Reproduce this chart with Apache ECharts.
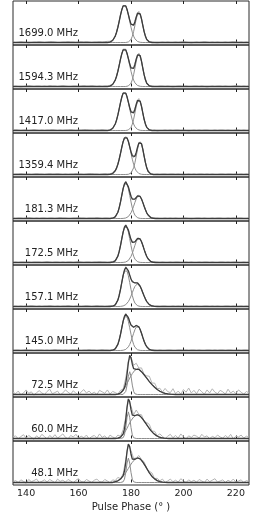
<!DOCTYPE html>
<html><head><meta charset="utf-8">
<script src="https://cdn.jsdelivr.net/npm/echarts@6/dist/echarts.min.js"></script>
<style>html,body{margin:0;padding:0;background:#fff}#c{width:256px;height:524px}</style>
</head><body><div id="c"></div>
<script>
// ---- tick labels / categories ----
const FREQ_LABELS = ['1699.0 MHz','1594.3 MHz','1417.0 MHz','1359.4 MHz','181.3 MHz','172.5 MHz','157.1 MHz','145.0 MHz','72.5 MHz','60.0 MHz','48.1 MHz'];
const X_TICKS = [140,160,180,200,220];
const X_MIN = 135, X_MAX = 225;
const AXIS_TITLE = 'Pulse Phase (° )';

// ---- model components: start phase (deg), values every 0.5 deg ----
const P1_C1 = [171.5, [0.005,0.012,0.026,0.052,0.097,0.167,0.269,0.401,0.558,0.720,0.864,0.964,1.000,0.964,0.864,0.720,0.558,0.401,0.269,0.167,0.097,0.052,0.026,0.012,0.005]];
const P1_C2 = [178.5, [0.005,0.014,0.035,0.081,0.162,0.288,0.450,0.620,0.750,0.800,0.750,0.620,0.450,0.288,0.162,0.081,0.035,0.014,0.005]];
const P2_C1 = [171.5, [0.005,0.012,0.026,0.052,0.097,0.167,0.269,0.401,0.558,0.720,0.864,0.964,1.000,0.964,0.864,0.720,0.558,0.401,0.269,0.167,0.097,0.052,0.026,0.012,0.005]];
const P2_C2 = [178.5, [0.005,0.015,0.038,0.087,0.175,0.310,0.484,0.667,0.807,0.860,0.807,0.667,0.484,0.310,0.175,0.087,0.038,0.015,0.005]];
const P3_C1 = [171.5, [0.005,0.012,0.027,0.053,0.099,0.170,0.274,0.409,0.569,0.734,0.881,0.983,1.020,0.983,0.881,0.734,0.569,0.409,0.274,0.170,0.099,0.053,0.027,0.012,0.005]];
const P3_C2 = [178.5, [0.005,0.014,0.036,0.083,0.166,0.295,0.462,0.636,0.769,0.820,0.769,0.636,0.462,0.295,0.166,0.083,0.036,0.014,0.005]];
const P4_C1 = [172.0, [0.005,0.012,0.026,0.052,0.097,0.167,0.269,0.401,0.558,0.720,0.864,0.964,1.000,0.964,0.864,0.720,0.558,0.401,0.269,0.167,0.097,0.052,0.026,0.012,0.005]];
const P4_C2 = [179.0, [0.005,0.015,0.038,0.087,0.175,0.310,0.484,0.667,0.807,0.860,0.807,0.667,0.484,0.310,0.175,0.087,0.038,0.015,0.005]];
const P5_C1 = [172.5, [0.003,0.007,0.018,0.042,0.087,0.163,0.280,0.435,0.612,0.782,0.904,0.950,0.904,0.782,0.612,0.435,0.280,0.163,0.087,0.042,0.018,0.007,0.003]];
const P5_C2 = [177.0, [0.002,0.006,0.013,0.026,0.051,0.091,0.149,0.229,0.323,0.424,0.514,0.577,0.600,0.577,0.514,0.424,0.323,0.229,0.149,0.091,0.051,0.026,0.013,0.006,0.002]];
const P6_C1 = [172.5, [0.003,0.007,0.019,0.043,0.089,0.167,0.286,0.444,0.625,0.798,0.923,0.970,0.923,0.798,0.625,0.444,0.286,0.167,0.089,0.043,0.019,0.007,0.003]];
const P6_C2 = [177.0, [0.0025,0.006,0.0135,0.028,0.054,0.097,0.159,0.244,0.345,0.452,0.548,0.616,0.640,0.616,0.548,0.452,0.345,0.244,0.159,0.097,0.054,0.028,0.0135,0.006,0.0025]];
const P7_C1 = [172.5, [0.003,0.007,0.019,0.043,0.090,0.169,0.289,0.449,0.631,0.807,0.933,0.980,0.933,0.807,0.631,0.449,0.289,0.169,0.090,0.043,0.019,0.007,0.003]];
const P7_C2 = [175.5, [0.001,0.003,0.007,0.014,0.026,0.048,0.081,0.130,0.195,0.275,0.364,0.453,0.529,0.581,0.600,0.581,0.529,0.453,0.364,0.275,0.195,0.130,0.081,0.048,0.026,0.014,0.007,0.003,0.001]];
const P8_C1 = [172.5, [0.0025,0.007,0.018,0.041,0.085,0.160,0.274,0.426,0.599,0.765,0.885,0.930,0.885,0.765,0.599,0.426,0.274,0.160,0.085,0.041,0.018,0.007,0.0025]];
const P8_C2 = [176.5, [0.0025,0.006,0.0135,0.028,0.054,0.097,0.159,0.244,0.345,0.452,0.548,0.616,0.640,0.616,0.548,0.452,0.345,0.244,0.159,0.097,0.054,0.028,0.0135,0.006,0.0025]];
const P9_C1 = [177.0, [0.002,0.017,0.081,0.247,0.481,0.600,0.481,0.247,0.081,0.017,0.002]];
const P9_C2 = [174.5, [0.005,0.01,0.02,0.04,0.07,0.11,0.16,0.22,0.29,0.36,0.43,0.49,0.55,0.60,0.64,0.66,0.67,0.665,0.635,0.60,0.56,0.52,0.475,0.43,0.385,0.34,0.30,0.26,0.225,0.19,0.16,0.13,0.105,0.085,0.067,0.052,0.04,0.03,0.022,0.016,0.012,0.008,0.005,0.003]];
const P10_C1 = [176.5, [0.003,0.020,0.095,0.288,0.561,0.700,0.561,0.288,0.095,0.020,0.003]];
const P10_C2 = [175.0, [0.01,0.02,0.035,0.06,0.10,0.15,0.21,0.27,0.34,0.41,0.47,0.52,0.565,0.60,0.62,0.625,0.615,0.59,0.555,0.51,0.46,0.41,0.36,0.31,0.26,0.215,0.175,0.14,0.11,0.083,0.062,0.045,0.032,0.022,0.015,0.009,0.005,0.002]];
const P11_C1 = [176.5, [0.002,0.018,0.086,0.263,0.513,0.640,0.513,0.263,0.086,0.018,0.002]];
const P11_C2 = [173.5, [0.01,0.02,0.03,0.045,0.065,0.09,0.125,0.165,0.21,0.26,0.31,0.37,0.43,0.48,0.53,0.575,0.61,0.635,0.645,0.64,0.62,0.585,0.54,0.485,0.43,0.37,0.31,0.255,0.205,0.16,0.125,0.095,0.07,0.05,0.035,0.024,0.016,0.01,0.006,0.003]];

// ---- observed profile residual noise, hundredths, one per degree 135..225 ----
const P1_NOISE = [1,0,1,2,1,0,-1,0,1,1, 2,1,0,1,2,2,1,0,0,1, 1,2,1,1,0,1,2,1,2,1, 0,1,1,2,1,2,3,2,1,0, 1,2,1,0,1,0,-1,0,1,0, 1,0,0,1,0,-1,0,1,0,1, 0,0,1,0,1,2,1,0,-1,0, 1,0,1,2,1,0,1,0,1,0, 0,1,0,1,2,1,0,1,0,1, 0];
const P2_NOISE = [0,1,0,-1,0,1,2,1,0,1, 1,0,1,0,2,1,1,0,1,2, 1,0,0,1,1,0,1,2,1,1, 2,1,0,1,0,1,1,2,1,1, 0,1,2,2,1,0,1,1,0,-1, 0,1,0,1,0,0,1,1,0,1, 0,-1,0,1,1,0,1,0,0,1, 1,0,1,0,-1,0,1,0,1,1, 0,1,0,0,1,2,1,0,1,0, 1];
const P3_NOISE = [1,2,1,0,1,1,0,1,2,1, 0,1,0,1,1,2,1,0,1,0, 1,1,2,1,0,1,1,2,2,1, 1,0,1,1,2,1,0,1,2,1, 0,1,1,0,-1,0,1,0,1,1, 0,1,1,0,1,-1,0,0,1,0, 1,0,1,1,0,1,0,-1,0,1, 0,1,0,1,1,0,0,1,0,1, 1,0,1,0,0,1,1,0,1,0, 0];
const P4_NOISE = [0,1,1,2,1,0,1,0,1,2, 1,1,0,1,2,1,1,2,1,0, 1,0,1,1,2,1,1,0,1,2, 2,1,1,0,1,2,1,1,2,1, 1,0,1,0,1,1,0,-1,0,1, 1,0,1,0,0,1,0,1,1,0, 1,1,0,1,0,-1,0,1,0,1, 0,1,1,0,1,0,1,0,0,1, 1,0,1,1,0,1,0,1,0,1, 0];
const P5_NOISE = [1,0,1,1,0,1,2,1,0,1, 0,1,1,0,1,1,0,1,2,1, 1,0,0,1,1,2,1,1,0,1, 1,1,2,1,0,1,1,0,1,1, 1,0,2,1,0,-1,0,1,1,0, 1,0,1,1,0,1,0,0,1,0, 1,0,1,0,0,1,1,0,-1,0, 1,1,0,1,0,0,1,0,1,1, 0,0,1,0,1,0,1,1,0,0, 1];
const P6_NOISE = [0,1,0,1,1,0,1,0,1,1, 1,0,1,2,1,0,1,1,0,1, 0,1,1,0,1,2,1,0,1,1, 0,1,1,2,1,1,0,1,2,1, 1,2,1,0,1,1,0,1,0,1, 0,1,0,0,1,1,0,1,0,0, 1,0,1,1,0,0,1,0,1,0, 0,1,0,1,1,0,1,0,0,1, 1,0,1,0,1,1,0,0,1,0, 1];
const P7_NOISE = [1,1,0,1,0,1,1,2,1,0, 1,0,1,1,2,1,0,1,0,1, 1,2,1,0,1,1,0,1,2,1, 0,1,2,1,1,0,1,2,1,0, 1,1,0,2,1,0,1,0,1,0, 1,1,0,1,0,1,0,1,1,0, 0,1,0,1,0,1,1,0,1,0, 1,0,0,1,1,0,1,0,1,0, 0,1,1,0,1,0,0,1,0,1, 0];
const P8_NOISE = [0,1,1,0,1,2,1,1,0,1, 1,1,0,1,0,1,2,1,1,0, 1,0,1,2,1,1,0,1,1,2, 1,1,0,1,2,1,1,0,1,1, 2,1,0,1,1,-1,0,1,0,1, 0,1,1,0,1,0,1,0,0,1, 1,0,0,1,1,0,1,0,1,1, 0,1,0,0,1,1,0,1,0,1, 1,0,1,1,0,0,1,0,1,1, 0];
const P9_NOISE = [6,2,9,-1,4,12,3,7,-2,5, 10,4,0,8,14,2,5,9,-1,4, 12,6,1,10,3,-2,7,13,4,9, 2,6,0,11,7,3,12,1,8,5, 0,7,3,13,5,1,9,16,3,10, 1,6,14,4,11,2,8,1,13,6, 4,15,2,9,1,13,6,17,4,11, 2,14,7,1,12,4,15,6,2,11, 7,1,14,4,9,2,12,6,1,8, 4];
const P10_NOISE = [4,7,-1,5,10,1,8,3,-2,7, 1,11,5,-1,8,2,10,1,6,12, 3,-1,8,4,11,1,6,2,9,-1, 5,8,1,12,3,7,-1,9,4,1, 8,2,11,6,0,9,4,13,2,7, -1,6,11,2,8,1,9,4,-1,6, 11,2,8,1,12,4,-1,7,3,9, 6,1,11,4,7,-1,6,2,9,4, 1,8,2,11,-1,6,4,9,1,6, 3];
const P11_NOISE = [2,5,0,7,3,-2,8,2,5,9, 0,3,7,1,8,4,-1,9,3,6, 1,8,4,-1,6,10,2,1,8,4, 0,6,9,2,1,8,4,-1,7,3, 9,1,4,8,0,10,4,1,7,2, 6,0,4,9,1,6,2,8,0,4, 9,2,6,1,10,4,0,7,2,6, 1,8,4,0,9,2,6,10,1,4, 7,0,6,2,9,1,4,7,0,5, 3];

const PANELS = [
  [P1_C1,P1_C2,P1_NOISE],[P2_C1,P2_C2,P2_NOISE],[P3_C1,P3_C2,P3_NOISE],[P4_C1,P4_C2,P4_NOISE],
  [P5_C1,P5_C2,P5_NOISE],[P6_C1,P6_C2,P6_NOISE],[P7_C1,P7_C2,P7_NOISE],[P8_C1,P8_C2,P8_NOISE],
  [P9_C1,P9_C2,P9_NOISE],[P10_C1,P10_C2,P10_NOISE],[P11_C1,P11_C2,P11_NOISE]
];

// ---- build ----
const CORE_LO = 170, CORE_HI = 197, STEP = 0.5;
function compAt(comp, p) {
  const k = Math.round((p - comp[0]) / STEP);
  return (k >= 0 && k < comp[1].length) ? comp[1][k] : 0;
}
const corePh = [];
for (let k = 0; k <= (CORE_HI - CORE_LO) / STEP; k++) corePh.push(CORE_LO + k * STEP);

const N = PANELS.length;
const PANEL_TOP = 1, PANEL_H = 44, LEFT = 13, WIDTH = 236;
const Y_MIN = -0.066, Y_MAX = 1.092;
const grids = [], xAxes = [], yAxes = [], series = [], graphics = [];
const FONT = 'DejaVu Sans';

PANELS.forEach((pn, i) => {
  const [c1, c2, noise] = pn;
  grids.push({left: LEFT, width: WIDTH, top: PANEL_TOP + PANEL_H * i, height: PANEL_H,
    show: true, borderColor: '#2a2a2a', borderWidth: 1, backgroundColor: 'transparent'});
  const last = i === N - 1;
  const baseAx = {gridIndex: i, type: 'value', min: X_MIN, max: X_MAX,
    axisLine: {show: false}, splitLine: {show: false},
    axisTick: {show: true, inside: true, length: 3, customValues: X_TICKS, lineStyle: {color: '#222', width: 1}}};
  xAxes.push(Object.assign({}, baseAx, {position: 'bottom',
    axisLabel: {show: last, customValues: X_TICKS, fontSize: 9.5, color: '#222', margin: 4, fontFamily: FONT},
    name: last ? AXIS_TITLE : '', nameLocation: 'middle', nameGap: 17,
    nameTextStyle: {fontSize: 10, color: '#222', fontFamily: FONT}}));
  xAxes.push(Object.assign({}, baseAx, {position: 'top', axisLabel: {show: false}}));
  yAxes.push({gridIndex: i, type: 'value', min: Y_MIN, max: Y_MAX, show: false});

  const m1 = [[X_MIN, 0]], m2 = [[X_MIN, 0]], tot = [[X_MIN, 0]];
  corePh.forEach(p => {
    const a = compAt(c1, p), b = compAt(c2, p);
    m1.push([p, a]); m2.push([p, b]); tot.push([p, a + b]);
  });
  m1.push([X_MAX, 0]); m2.push([X_MAX, 0]); tot.push([X_MAX, 0]);
  const obs = noise.map((n, j) => {
    const p = X_MIN + j;
    const model = (p >= CORE_LO && p <= CORE_HI) ? compAt(c1, p) + compAt(c2, p) : 0;
    return [p, model + n / 100];
  });
  const xi = 2 * i;
  series.push({type: 'line', xAxisIndex: xi, yAxisIndex: i, data: obs, showSymbol: false, symbol: 'none',
    lineStyle: {color: '#b4b4b4', width: 1}, z: 1, silent: true});
  series.push({type: 'line', xAxisIndex: xi, yAxisIndex: i, data: m1, showSymbol: false, symbol: 'none',
    lineStyle: {color: '#8c8c8c', width: 1}, z: 2, silent: true});
  series.push({type: 'line', xAxisIndex: xi, yAxisIndex: i, data: m2, showSymbol: false, symbol: 'none',
    lineStyle: {color: '#8c8c8c', width: 1}, z: 2, silent: true});
  series.push({type: 'line', xAxisIndex: xi, yAxisIndex: i, data: tot, showSymbol: false, symbol: 'none',
    lineStyle: {color: '#3c3c3c', width: 1.3}, z: 3, silent: true});
  graphics.push({type: 'text', x: 78, y: PANEL_TOP + PANEL_H * i + 32, z: 10,
    style: {text: FREQ_LABELS[i], align: 'right', verticalAlign: 'middle', fontSize: 10, fill: '#222', fontFamily: FONT}});
});

const chart = echarts.init(document.getElementById('c'), null, {renderer: 'canvas'});
chart.setOption({animation: false, backgroundColor: '#fff', grid: grids, xAxis: xAxes, yAxis: yAxes, series: series, graphic: graphics});
</script>
</body></html>
